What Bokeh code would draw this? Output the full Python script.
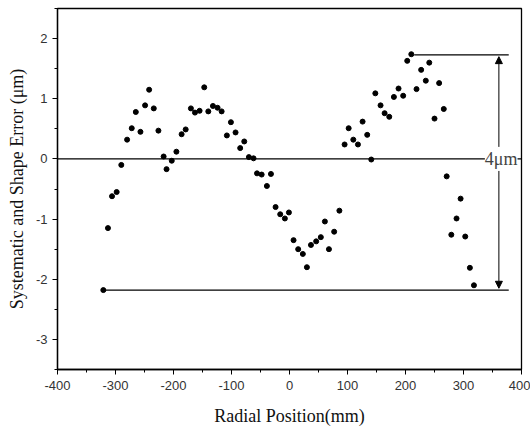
from bokeh.plotting import figure
from bokeh.models import (FixedTicker, Span, Arrow, NormalHead, Label,
                          ColumnDataSource)
from bokeh.embed import file_html
from bokeh.resources import INLINE

# radial positions (mm) and systematic/shape error (um)
radial_mm = [-321, -313, -306, -298, -290, -280, -272, -265, -257, -249, -242,
             -234, -226, -217, -212, -203, -195, -186, -179, -170, -163, -155,
             -147, -140, -132, -124, -117, -108, -101, -93, -85, -78, -70, -62,
             -56, -48, -39, -32, -24, -16, -8, -1, 7, 15, 23, 30, 37, 46, 54,
             61, 68, 77, 86, 95, 102, 110, 118, 126, 134, 141, 148, 157, 164,
             172, 180, 188, 196, 203, 210, 219, 227, 235, 241, 250, 258, 266,
             271, 279, 288, 295, 303, 311, 318]
error_um = [-2.18, -1.15, -0.62, -0.55, -0.10, 0.32, 0.51, 0.78, 0.45, 0.89,
            1.15, 0.84, 0.47, 0.04, -0.17, -0.03, 0.12, 0.41, 0.49, 0.84, 0.77,
            0.80, 1.19, 0.79, 0.88, 0.85, 0.79, 0.39, 0.61, 0.44, 0.18, 0.29,
            0.03, 0.01, -0.24, -0.26, -0.45, -0.25, -0.80, -0.92, -0.99, -0.89,
            -1.35, -1.50, -1.58, -1.80, -1.43, -1.37, -1.30, -1.04, -1.50,
            -1.21, -0.86, 0.24, 0.51, 0.32, 0.24, 0.62, 0.40, -0.01, 1.09,
            0.89, 0.76, 0.70, 1.03, 1.17, 1.05, 1.63, 1.74, 1.16, 1.48, 1.30,
            1.60, 0.67, 1.26, 0.83, -0.29, -1.26, -0.99, -0.66, -1.29, -1.81,
            -2.10]

x_ticks = [-400, -300, -200, -100, 0, 100, 200, 300, 400]
x_tick_labels = ["-400", "-300", "-200", "-100", "0", "100", "200", "300", "400"]
x_minor = [-350, -250, -150, -50, 50, 150, 250, 350]
y_ticks = [-3, -2, -1, 0, 1, 2]
y_tick_labels = ["-3", "-2", "-1", "0", "1", "2"]
y_minor = [-3.5, -2.5, -1.5, -0.5, 0.5, 1.5, 2.5]

# annotation levels
top_level = 1.73
bottom_level = -2.18
top_line_x = [215, 378]
bottom_line_x = [-321, 378]
arrow_x = 361
text_x = 365
range_text = "4μm"

p = figure(width=530, height=428, x_range=(-400, 400), y_range=(-3.5, 2.5),
           output_backend="svg", toolbar_location=None,
           min_border_left=57, min_border_right=9, min_border_top=8,
           min_border_bottom=58)
p.xgrid.visible = False
p.ygrid.visible = False
p.outline_line_color = "black"
p.outline_line_width = 1.3
p.background_fill_color = "white"

p.xaxis.ticker = FixedTicker(ticks=x_ticks, minor_ticks=x_minor)
p.yaxis.ticker = FixedTicker(ticks=y_ticks, minor_ticks=y_minor)
p.xaxis.major_label_overrides = dict(zip(x_ticks, x_tick_labels))
p.yaxis.major_label_overrides = dict(zip(y_ticks, y_tick_labels))
for ax in (p.xaxis[0], p.yaxis[0]):
    ax.axis_line_color = "black"
    ax.axis_line_width = 1.3
    ax.major_tick_line_color = "black"
    ax.minor_tick_line_color = "black"
    ax.major_tick_in = 0
    ax.major_tick_out = 5
    ax.minor_tick_in = 0
    ax.minor_tick_out = 3
    ax.major_label_text_font = "Liberation Sans"
    ax.major_label_text_font_size = "13px"
    ax.major_label_text_color = "#333333"
    ax.axis_label_text_font = "Liberation Serif"
    ax.axis_label_text_font_size = "18px"
    ax.axis_label_text_font_style = "normal"
    ax.axis_label_text_color = "#111111"

p.xaxis.axis_label = "Radial Position(mm)"
p.yaxis.axis_label = "Systematic and Shape Error (μm)"
p.xaxis.major_label_standoff = 6
p.yaxis.major_label_standoff = 5
p.xaxis.axis_label_standoff = 13
p.yaxis.axis_label_standoff = 6

# reference lines
p.add_layout(Span(location=0, dimension="width", line_color="black",
                  line_width=1.4))
p.line(top_line_x, [top_level, top_level], line_color="black", line_width=1.2)
p.line(bottom_line_x, [bottom_level, bottom_level], line_color="black",
       line_width=1.4)

# data points
src = ColumnDataSource(dict(x=radial_mm, y=error_um))
p.scatter("x", "y", source=src, size=5, color="black")

# range arrows
p.add_layout(Arrow(end=NormalHead(size=7, fill_color="black", line_color="black"),
                   x_start=arrow_x, y_start=0.2, x_end=arrow_x, y_end=top_level - 0.03,
                   line_color="black", line_width=1))
p.add_layout(Arrow(end=NormalHead(size=7, fill_color="black", line_color="black"),
                   x_start=arrow_x, y_start=-0.2, x_end=arrow_x, y_end=bottom_level + 0.03,
                   line_color="black", line_width=1))
p.add_layout(Label(x=text_x, y=0, text=range_text, text_align="center",
                   text_baseline="middle", text_font="Liberation Serif",
                   text_font_size="18px", text_font_style="normal",
                   background_fill_color="white"))

open("out.html", "w").write(file_html(p, INLINE))
